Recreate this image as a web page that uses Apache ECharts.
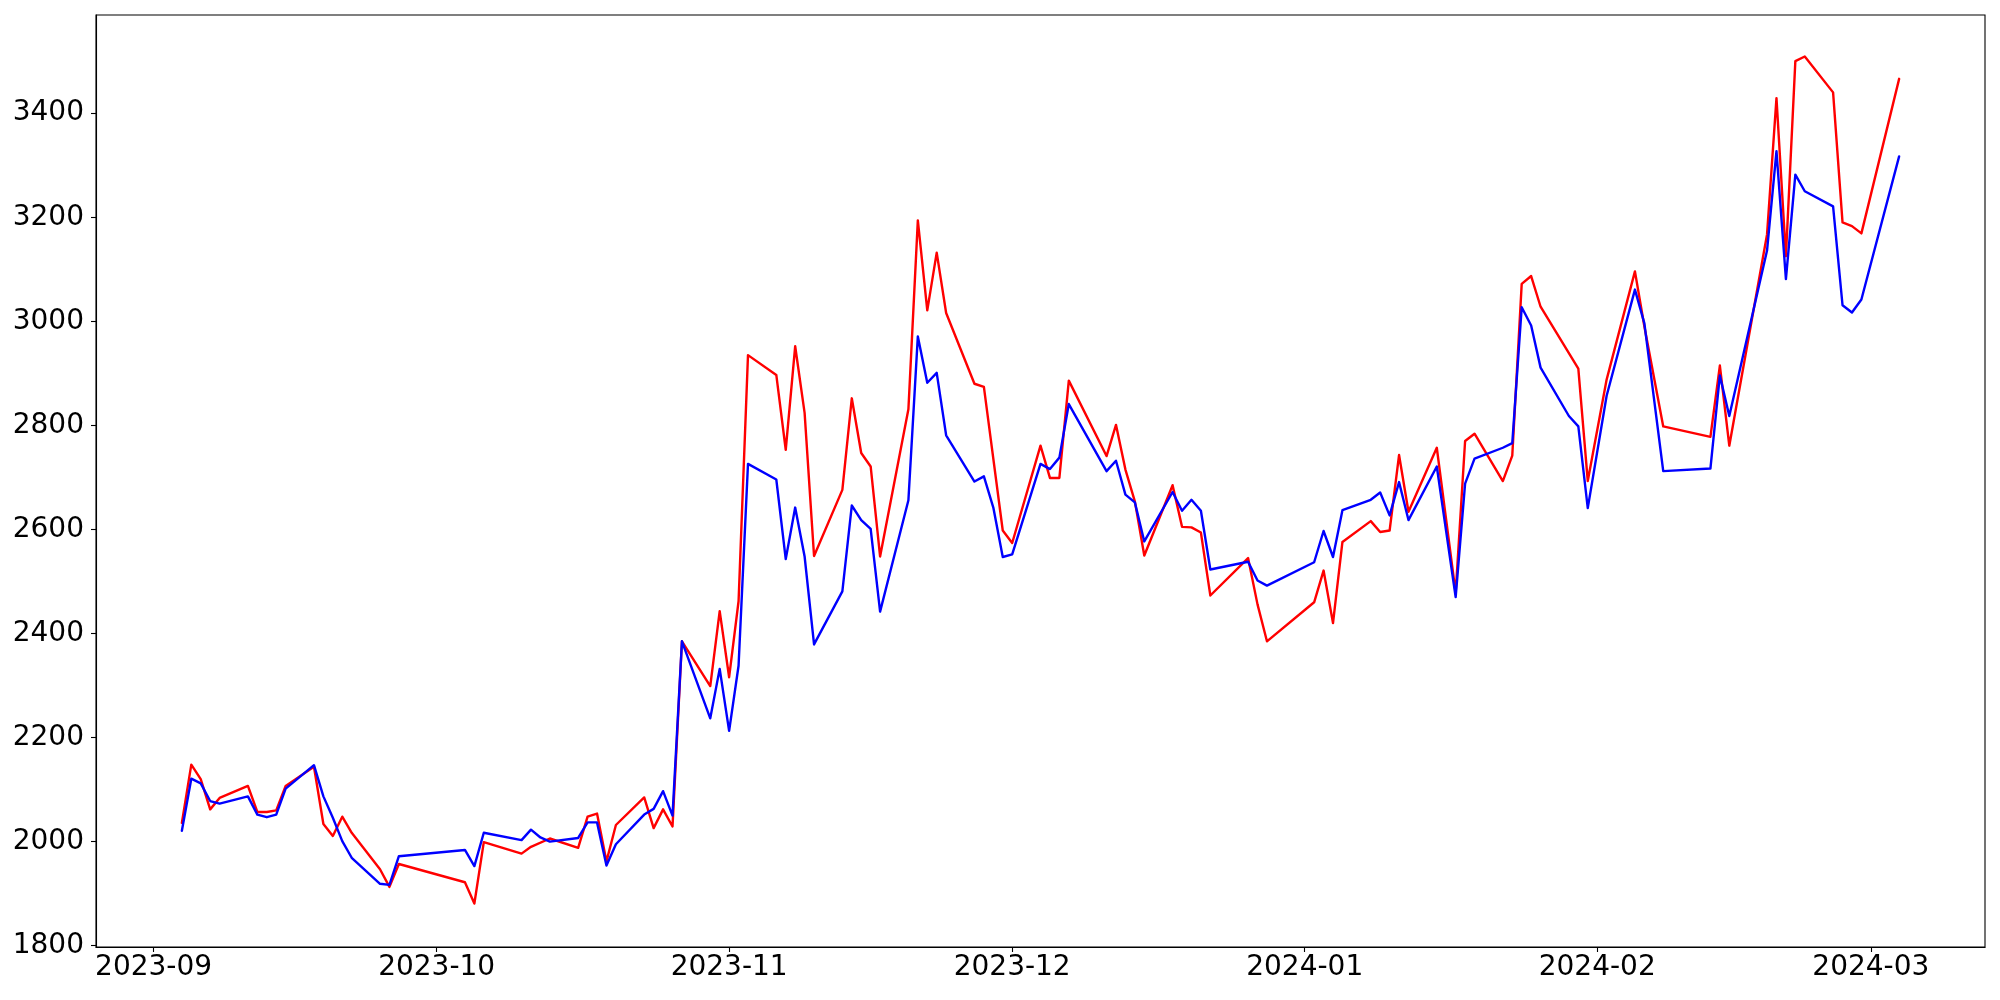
<!DOCTYPE html>
<html>
<head>
<meta charset="utf-8">
<script src="https://cdn.jsdelivr.net/npm/echarts@6/dist/echarts.min.js"></script>
<style>
html,body{margin:0;padding:0;background:#fff;}
#chart{width:2000px;height:1000px;}
</style>
</head>
<body>
<div id="chart"></div>
<script>
const dates = [
 '2023-09-04','2023-09-05','2023-09-06','2023-09-07','2023-09-08',
 '2023-09-11','2023-09-12','2023-09-13','2023-09-14','2023-09-15',
 '2023-09-18','2023-09-19','2023-09-20','2023-09-21','2023-09-22',
 '2023-09-25','2023-09-26','2023-09-27',
 '2023-10-04','2023-10-05','2023-10-06',
 '2023-10-10','2023-10-11','2023-10-12','2023-10-13',
 '2023-10-16','2023-10-17','2023-10-18','2023-10-19','2023-10-20',
 '2023-10-23','2023-10-24','2023-10-25','2023-10-26','2023-10-27',
 '2023-10-30','2023-10-31','2023-11-01','2023-11-02','2023-11-03',
 '2023-11-06','2023-11-07','2023-11-08','2023-11-09','2023-11-10',
 '2023-11-13','2023-11-14','2023-11-15','2023-11-16','2023-11-17',
 '2023-11-20','2023-11-21','2023-11-22','2023-11-23','2023-11-24',
 '2023-11-27','2023-11-28','2023-11-29','2023-11-30','2023-12-01',
 '2023-12-04','2023-12-05','2023-12-06','2023-12-07',
 '2023-12-11','2023-12-12','2023-12-13','2023-12-14','2023-12-15',
 '2023-12-18','2023-12-19','2023-12-20','2023-12-21','2023-12-22',
 '2023-12-26','2023-12-27','2023-12-28',
 '2024-01-02','2024-01-03','2024-01-04','2024-01-05',
 '2024-01-08','2024-01-09','2024-01-10','2024-01-11','2024-01-12',
 '2024-01-15','2024-01-17','2024-01-18','2024-01-19',
 '2024-01-22','2024-01-23','2024-01-24','2024-01-25','2024-01-26',
 '2024-01-29','2024-01-30','2024-01-31','2024-02-02',
 '2024-02-05','2024-02-06','2024-02-08',
 '2024-02-13','2024-02-14','2024-02-15',
 '2024-02-19','2024-02-20','2024-02-21','2024-02-22','2024-02-23',
 '2024-02-26','2024-02-27','2024-02-28','2024-02-29',
 '2024-03-04'
];
const redValues = [
 2036,2148,2120,2062,2084,
 2107,2057,2057,2060,2107,
 2144,2034,2011,2048,2017,
 1947,1913,1957,
 1922,1881,1999,
 1977,1990,null,2006,
 1988,2048,2054,1962,2032,
 2085,2026,2062,2029,2385,
 2299,2443,2316,2462,2935,
 2897,2753,2952,2824,2549,
 2676,2852,2747,2721,2548,
 2831,3194,3021,3132,3016,
 2880,2874,null,2598,2574,
 2761,2699,2699,2886,
 2741,2801,2715,2654,2550,
 2685,2605,2604,2594,2473,
 2545,2456,2385,
 2460,2521,2420,2576,
 2616,2595,2598,2743,2634,
 2757,2478,2770,2784,
 2693,2742,3072,3087,3028,
 null,2909,2693,2888,
 3096,2990,2798,
 2778,2915,2761,
 3167,3429,3125,3500,3509,
 3440,3190,3183,3169,
 3466
];
const blueValues = [
 2021,2121,2112,2078,2073,
 2087,2052,2047,2052,2102,
 2147,2087,2046,2001,1969,
 1919,1917,1972,
 1984,1953,2017,
 2003,2023,2008,2000,
 2007,2037,2037,1954,1995,
 2052,2063,2097,2050,2385,
 2237,2332,2213,2338,2726,
 2696,2543,2642,2548,2379,
 2481,2646,2618,2601,2442,
 2656,2971,2882,2901,2781,
 2692,2702,2642,2547,2552,
 2726,2716,2738,2841,
 2712,2732,2667,2652,2577,
 2672,2636,2657,2636,2523,
 2538,2502,2492,
 2537,2597,2547,2637,
 2657,2671,2627,2691,2618,
 2721,2470,2688,2736,
 2757,2766,3027,2992,2911,
 2818,2798,2641,2857,
 3061,2996,2712,
 2717,2896,2818,
 3136,3327,3081,3282,3250,
 3221,3031,3017,3042,
 3317
];
const yTicks = [1800,2000,2200,2400,2600,2800,3000,3200,3400];
const xTickLabels = ['2023-09','2023-10','2023-11','2023-12','2024-01','2024-02','2024-03'];

const toTs = s => Date.parse(s.length === 7 ? s + '-01T00:00:00Z' : s + 'T00:00:00Z');
const xTicks = xTickLabels.map(toTs);
const redData = dates.map((d, i) => [toTs(d), redValues[i]]);
const blueData = dates.map((d, i) => [toTs(d), blueValues[i]]);
const pad = n => (n < 10 ? '0' : '') + n;
const fmtMonth = v => { const d = new Date(v); return d.getUTCFullYear() + '-' + pad(d.getUTCMonth() + 1); };

const font = { fontFamily: 'DejaVu Sans', fontSize: 28, color: '#000' };
const chart = echarts.init(document.getElementById('chart'), null, { renderer: 'canvas' });
chart.setOption({
  animation: false,
  backgroundColor: '#fff',
  grid: {
    left: 96, right: 15, top: 15, bottom: 53,
    show: true, borderColor: '#000', borderWidth: 1.1,
    backgroundColor: 'transparent',
    containLabel: false
  },
  xAxis: {
    type: 'value',
    min: Date.UTC(2023, 7, 25, 21, 36),
    max: Date.UTC(2024, 2, 13, 2, 24),
    axisLine: { show: true, onZero: false, lineStyle: { color: '#000', width: 1.1 } },
    axisTick: { show: true, length: 5, lineStyle: { color: '#000', width: 1.1 }, customValues: xTicks },
    axisLabel: Object.assign({ margin: 7, customValues: xTicks, formatter: v => fmtMonth(v), showMinLabel: true, showMaxLabel: true }, font),
    splitLine: { show: false }
  },
  yAxis: {
    type: 'value',
    min: 1797.5,
    max: 3588.7,
    axisLine: { show: true, onZero: false, lineStyle: { color: '#000', width: 1.1 } },
    axisTick: { show: true, length: 5, lineStyle: { color: '#000', width: 1.1 }, customValues: yTicks },
    axisLabel: Object.assign({ margin: 12, customValues: yTicks, formatter: v => String(v) }, font),
    splitLine: { show: false }
  },
  series: [
    { type: 'line', data: redData, showSymbol: false, connectNulls: true,
      lineStyle: { color: '#ff0000', width: 2.4, join: 'round', cap: 'round' }, itemStyle: { color: '#ff0000' } },
    { type: 'line', data: blueData, showSymbol: false, connectNulls: true,
      lineStyle: { color: '#0000ff', width: 2.4, join: 'round', cap: 'round' }, itemStyle: { color: '#0000ff' } }
  ]
});
</script>
</body>
</html>
